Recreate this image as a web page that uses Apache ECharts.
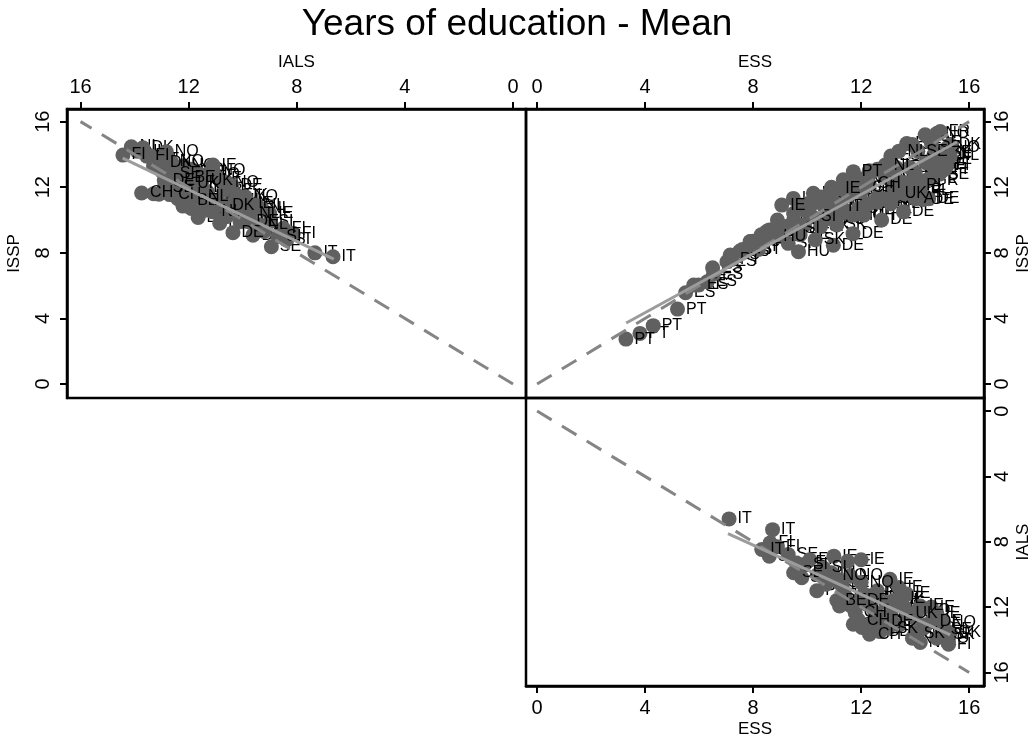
<!DOCTYPE html>
<html><head><meta charset="utf-8">
<style>html,body{margin:0;padding:0;background:#fff}#c{width:1034px;height:739px}</style>
<script src="https://cdn.jsdelivr.net/npm/echarts@6/dist/echarts.min.js"></script>
</head><body><div id="c"></div>
<script>
const tickValues = [0, 4, 8, 12, 16];
const refLine = [[0, 0], [16, 16]];

// Panel: IALS (x) vs ISSP (y)
const ialsA = [14.43,14.12,13.69,13.55,13.2,12.83,12.64,13.3,13.0,12.64,12.46,12.3,12.1,11.9,11.1,11.5,11.3,10.9,10.6,10.4,9.9,9.74,9.3,9.0,13.74,13.3,13.1,12.7,12.5,12.21,12.0,11.65,11.4,11.1,10.85,10.6,10.36,10.1,9.62,9.4,9.2,8.94,8.7,8.38,8.13,8.5,7.33,6.66,12.9,12.2,11.8,11.6,11.3,11.0,10.7,10.3,10.0,9.7,12.7,12.4,12.0,13.9,13.4,13.0,12.2,11.7,11.1,10.7,10.2,9.8,9.5,9.0,12.9,11.9,11.4];
const isspA = [13.96,14.47,14.41,13.9,13.7,14.17,13.56,13.3,13.0,12.86,12.33,12.9,12.6,13.1,13.35,12.4,12.8,12.55,12.3,12.1,11.42,11.0,10.7,10.4,11.65,11.6,11.58,11.55,11.5,10.85,11.2,10.16,10.6,10.5,9.8,10.2,9.23,9.9,9.08,9.7,9.3,8.37,9.0,8.78,9.19,9.5,8.0,7.76,12.4,11.9,12.0,11.4,11.7,11.2,10.9,11.2,10.6,10.4,12.1,11.3,12.2,14.2,13.9,13.5,13.3,12.9,13.0,11.8,11.5,9.9,10.9,9.9,12.0,10.7,11.0];
const codesA = ["FI","NL","DK","FI","IT","NO","NO","IT","SE","SE","SE","SE","BE","NO","IE","UK","NO","IE","NO","DE","NO","IE","NL","IE","CH","CH","CH","CH","CH","CH","BE","DE","CH","NL","DE","NL","DE","NL","DE","NL","IT","SE","SI","SI","FI","FI","IT","IT","DE","SI","BE","NL","UK","BE","DK","NL","DE","NL","SE","DE","UK","NL","FI","DK","NO","SE","NO","BE","UK","DE","NL","SI","SE","CH","DE"];
const fitA = [[14.44,13.78],[6.63,7.62]];

// Panel: ESS (x) vs ISSP (y)
const essB = [3.29,3.81,4.3,5.2,5.5,5.8,5.98,6.3,6.53,6.5,7.03,7.15,7.2,7.89,7.9,8.6,8.75,9.3,9.06,9.49,9.68,9.74,9.9,10.23,10.3,10.97,10.9,11.1,11.34,11.7,11.71,11.7,11.9,12.2,12.4,12.76,12.89,13.0,13.3,13.57,13.69,13.9,14.1,14.25,14.3,14.37,14.5,14.5,14.6,14.8,14.93,15.0,15.17,15.2,15.3,15.3,15.1,14.9,14.7,14.4,14.1,13.8,13.5,13.2,12.9,12.6,12.3,12.0,11.6,11.3,11.0,10.6,10.2,9.9,9.5,9.2,8.9,8.5,8.2,7.9,7.5,10.0,10.4,10.8,11.2,11.5,12.1,12.6,13.1,13.6,14.0,14.4,14.7,15.0,8.0,8.4,8.8,9.5,9.8,10.2,10.5,10.8,11.1,11.5,12.0,12.3,12.6,13.1,13.4,13.9,8.9,8.3,7.6,9.1,9.6,10.5,11.0,11.4,12.3,12.9,13.3,13.8,14.0,14.5,14.8,13.1,12.1,10.7];
const isspB = [2.74,3.09,3.56,4.57,5.57,6.04,6.04,6.24,6.7,7.09,7.46,7.87,7.6,8.69,8.68,9.4,9.4,8.58,10.91,11.32,8.07,9.1,9.7,11.63,8.8,8.47,12.0,9.7,12.45,9.17,12.95,10.3,10.7,11.0,12.9,10.0,13.35,11.2,13.2,10.5,14.67,11.7,14.2,11.8,11.25,15.2,11.3,12.5,14.7,15.28,15.4,13.7,13.3,14.4,14.6,13.9,13.1,12.8,14.0,13.5,12.1,13.2,12.3,12.0,12.6,11.1,12.2,11.7,12.0,10.4,11.1,10.9,10.2,10.6,10.0,9.6,9.0,9.3,8.2,8.4,8.1,11.0,11.2,10.1,10.8,11.5,10.3,11.4,11.0,11.6,11.3,12.4,13.2,14.1,8.7,8.9,9.0,10.4,10.9,11.0,11.4,11.6,11.9,12.3,12.5,13.0,13.1,13.9,14.2,14.6,10.0,9.1,8.2,9.4,9.5,9.6,10.0,10.6,11.0,11.3,11.6,12.3,12.9,13.5,13.4,12.6,12.0,10.6];
const codesB = ["PT","PT","PT","PT","ES","PT","ES","ES","ES","ES","ES","ES","PT","PT","ES","SI","PT","SI","IE","IE","HU","SE","SI","NL","SK","DE","NL","SK","IE","DE","PT","HU","CH","HU","IE","DE","NL","NL","IE","DE","ES","SE","SE","PL","DE","NL","DE","PL","SE","NO","FR","SE","FI","NO","DK","NL","FI","SE","NO","SE","PL","DE","HU","CH","HU","SK","CH","CH","HU","SK","SI","HU","SI","UK","SE","SI","IT","HU","IT","PT","ES","BE","UK","SK","IT","BE","CH","BE","NL","IE","AT","GR","IE","SE","PT","SI","HU","IE","NL","NO","BE","NL","IE","UK","NL","BE","IE","ES","NL","SE","PT","ES","ES","IT","SI","SK","HU","CH","BE","DE","UK","CH","PL","AT","SE","NO","CH","SI"];
const fitB = [[3.3,3.72],[15.55,14.76]];

// Panel: ESS (x) vs IALS (y)
const essC = [7.11,8.72,8.63,8.32,8.6,9.3,9.5,9.8,10.1,9.9,10.99,11.5,12.0,10.36,10.7,11.0,11.2,11.4,11.78,11.71,12.03,12.31,11.3,11.6,12.0,12.3,12.6,13.07,13.4,13.69,14.19,14.19,15.24,15.3,15.05,14.8,14.6,14.3,14.0,13.7,13.4,13.1,12.8,12.5,12.2,11.9,12.4,12.7,13.0,13.3,13.6,14.0,14.4,14.8,15.0,13.2,12.9,10.6,11.2,10.4,8.9,9.6,10.9,11.1,11.6,12.1,13.5,14.1,14.6,15.1,13.9,12.6,11.9];
const ialsC = [6.6,7.26,8.07,8.47,8.88,8.78,9.9,10.2,9.1,9.4,8.88,9.2,9.1,11.0,10.6,10.1,11.93,11.3,12.34,13.05,13.25,13.66,10.7,10.1,10.5,11.4,11.0,10.3,10.8,11.2,11.93,14.17,14.27,13.56,12.95,12.4,12.9,13.3,12.7,12.4,13.1,12.5,12.9,12.3,11.8,12.8,13.0,13.5,13.3,11.9,12.0,13.6,13.1,13.9,13.4,11.6,11.7,9.6,10.5,10.0,8.3,9.3,9.9,11.6,11.9,11.2,11.5,12.2,12.0,13.7,13.9,12.4,11.6];
const codesC = ["IT","IT","FI","IT","SI","SE","SE","SE","FI","SI","IE","IE","IE","PT","SE","NO","DE","UK","CH","CH","CH","CH","NL","NO","NO","BE","NL","IE","IE","IE","IE","NL","FI","DK","NO","IE","DE","NO","SK","UK","CH","BE","DE","NL","NO","CH","DE","BE","SK","IE","NO","SK","NL","NO","SE","UK","NO","SI","SE","FI","FI","SE","NL","BE","UK","DE","IE","NO","IE","SK","NL","CH","DE"];
const fitC = [[7.07,7.5],[15.3,13.7]];

const AX = {fontFamily:'Liberation Sans', color:'#000', fontSize:20};
function axis(gridIndex, position, name, range, nameGap, labelMargin, inverse, vertical){
  return {
    type:'value', gridIndex, position, name, nameLocation:'middle', nameGap,
    nameRotate: vertical ? 90 : 0,
    nameTextStyle:{fontFamily:'Liberation Sans', color:'#000', fontSize:17},
    min:range[0], max:range[1], inverse, splitLine:{show:false},
    axisLine:{show:true, onZero:false, lineStyle:{color:'#000', width:2.5}},
    axisTick:{show:true, length:7, customValues:tickValues, lineStyle:{color:'#000', width:2}},
    axisLabel:Object.assign({show:true, margin:labelMargin, rotate:vertical?90:0, customValues:tickValues,
      showMinLabel:true, showMaxLabel:true}, AX)
  };
}
const labelStyle = {show:true, position:'right', distance:1, fontFamily:'Liberation Sans', fontSize:16, color:'#000', opacity:1,
  formatter:p=>p.data[2]};
// Labels are drawn in two layers: most sit beneath the markers (the markers hide them), some lie above.
function labelLayer(i, xs, ys, codes, z, keep){
  const data=[];
  xs.forEach((x,k)=>{ if(keep(k)) data.push([x,ys[k],codes[k]]); });
  return {type:'scatter', xAxisIndex:i, yAxisIndex:i, z, symbolSize:15, silent:true,
    itemStyle:{color:'transparent'}, label:labelStyle, labelLayout:{hideOverlap:false}, data};
}
function marks(i, xs, ys, codes, every){
  return [
    labelLayer(i, xs, ys, codes, 1, k=>k%every!==0),
    {type:'scatter', xAxisIndex:i, yAxisIndex:i, z:2, symbolSize:15, silent:true,
     itemStyle:{color:'#606060', opacity:1}, data:xs.map((x,k)=>[x,ys[k]])},
    labelLayer(i, xs, ys, codes, 3, k=>k%every===0)
  ];
}
function line(i, data, dashed){
  return {type:'line', xAxisIndex:i, yAxisIndex:i, z:dashed?4:5, symbol:'none', silent:true,
    lineStyle: dashed ? {color:'#858585', width:3, type:[17,12]} : {color:'#9c9c9c', width:3},
    data};
}
const rangeTL=[-0.48,16.5], rangeTR=[-0.41,16.55], rangeY=[-0.85,16.77], rangeBR=[-0.8,16.83];
const chart = echarts.init(document.getElementById('c'), null, {renderer:'canvas'});
chart.setOption({
  animation:false, backgroundColor:'#fff',
  title:{text:'Years of education - Mean', left:'center', top:1,
    textStyle:{fontFamily:'Liberation Sans', fontWeight:'normal', fontSize:37, color:'#000'}},
  grid:[
    {left:67, top:109, width:459, height:289, show:true, borderColor:'#000', borderWidth:2.5},
    {left:526, top:109, width:458, height:289, show:true, borderColor:'#000', borderWidth:2.5},
    {left:526, top:398, width:458, height:289, show:true, borderColor:'#000', borderWidth:2.5}
  ],
  xAxis:[
    axis(0,'top','IALS',rangeTL,38,12,true,false),
    axis(1,'top','ESS',rangeTR,38,12,false,false),
    axis(2,'bottom','ESS',rangeTR,35,12,false,false)
  ],
  yAxis:[
    axis(0,'left','ISSP',rangeY,44,14,false,true),
    axis(1,'right','ISSP',rangeY,31,8,false,true),
    axis(2,'right','IALS',rangeBR,31,8,true,true)
  ],
  series:[
    ...marks(0,ialsA,isspA,codesA,3), line(0,fitA,false), line(0,refLine,true),
    ...marks(1,essB,isspB,codesB,6), line(1,fitB,false), line(1,refLine,true),
    ...marks(2,essC,ialsC,codesC,3), line(2,fitC,false), line(2,refLine,true)
  ]
});
</script></body></html>
